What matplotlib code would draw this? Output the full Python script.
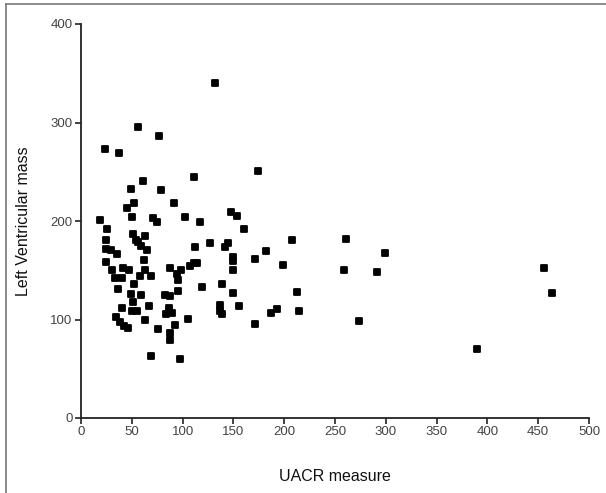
import matplotlib.pyplot as plt
from matplotlib.lines import Line2D

# UACR vs left ventricular mass
uacr = [132, 56, 77, 24, 37, 174, 111, 61, 49, 79, 52, 92, 45, 148, 154,
        19, 50, 71, 75, 102, 117, 160, 26, 208, 51, 63, 25, 54, 25, 30,
        56, 59, 65, 35, 112, 127, 145, 142, 182, 25, 62, 150, 150, 171,
        199, 111, 114, 107, 88, 98, 150, 31, 41, 47, 63, 94, 33, 40, 58,
        69, 95, 52, 36, 119, 139, 150, 95, 83, 88, 49, 59, 51, 67, 40,
        156, 137, 137, 139, 50, 55, 87, 87, 84, 90, 34, 63, 105, 38, 42,
        46, 76, 93, 88, 88, 171, 187, 193, 69, 97, 261, 299, 259, 291,
        213, 215, 274, 390, 456, 464]
lv_mass = [340, 295, 286, 273, 269, 251, 245, 241, 232, 231, 218, 218, 213,
           209, 205, 201, 204, 203, 199, 204, 199, 192, 192, 181, 187, 185,
           181, 181, 172, 171, 179, 175, 171, 166, 174, 178, 178, 174, 170,
           158, 160, 163, 159, 161, 155, 157, 157, 154, 152, 150, 150, 150,
           152, 150, 150, 146, 142, 142, 144, 144, 140, 136, 131, 133, 136,
           127, 129, 125, 124, 126, 125, 118, 114, 112, 114, 115, 109, 106,
           109, 109, 112, 108, 106, 107, 103, 100, 101, 97, 93, 91, 90, 94,
           86, 79, 95, 107, 111, 63, 60, 182, 168, 150, 148, 128, 109, 98,
           70, 152, 127]

fig = plt.figure(figsize=(6.06, 4.93), dpi=100)
ax = fig.add_axes([81 / 606, 75 / 493, 508 / 606, 394 / 493])

ax.scatter(uacr, lv_mass, marker='s', s=17, color='black',
           edgecolors='black', linewidths=1.3, clip_on=False)
for c in ax.collections:
    c.set_joinstyle('round')

ax.set_xlim(0, 500)
ax.set_ylim(0, 400)
ax.set_xticks(range(0, 501, 50))
ax.set_yticks(range(0, 401, 100))

for side in ['top', 'right']:
    ax.spines[side].set_visible(False)
for side in ['left', 'bottom']:
    ax.spines[side].set_linewidth(1.3)
    ax.spines[side].set_color('#222222')

ax.tick_params(direction='out', length=4, width=1.2, color='#222222',
               labelsize=9.5, labelcolor='#444444', pad=2)

ax.set_xlabel('UACR measure', fontsize=11.5, color='#111111', labelpad=22)
ax.set_ylabel('Left Ventricular mass', fontsize=11.5, color='#111111', labelpad=14)

for t in ax.get_xticklabels() + ax.get_yticklabels() + [ax.xaxis.label, ax.yaxis.label]:
    t.set_family(['Liberation Sans', 'DejaVu Sans'])

# thin frame on the left and top of the picture
fig.add_artist(Line2D([6 / 606, 6 / 606], [0, 1 - 4 / 493], transform=fig.transFigure,
                      color='#777777', linewidth=1.2))
fig.add_artist(Line2D([6 / 606, 1], [1 - 4 / 493, 1 - 4 / 493], transform=fig.transFigure,
                      color='#777777', linewidth=1.2))

fig.savefig('out.png', dpi=100)
